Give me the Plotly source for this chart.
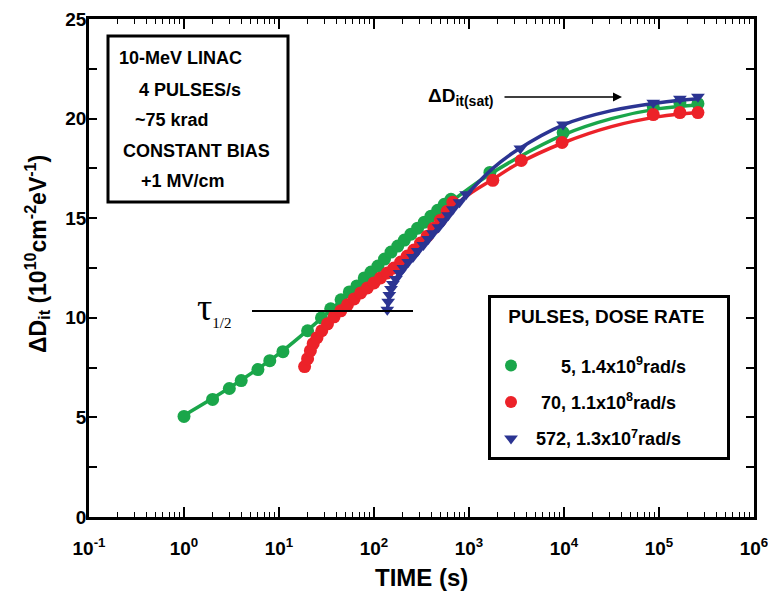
import plotly.graph_objects as go

# 5 pulses, 1.4e9 rad/s
t_5 = [1, 2, 3, 4, 6, 8, 11, 20, 28, 35, 45, 55, 66, 79, 93, 110, 129, 151, 178,
       209, 245, 288, 339, 398, 468, 550, 646, 1660, 9800, 87000, 166000, 257000]
d_5 = [5.05, 5.9, 6.45, 6.85, 7.4, 7.85, 8.3, 9.35, 10.0, 10.45, 10.9, 11.3, 11.6,
       12.0, 12.3, 12.6, 12.95, 13.3, 13.6, 13.9, 14.2, 14.5, 14.8, 15.1, 15.4,
       15.7, 15.95, 17.3, 19.3, 20.6, 20.8, 20.75]

# 70 pulses, 1.1e8 rad/s
t_70 = [18.6, 20, 21.4, 22.9, 25.1, 28.2, 32.4, 38, 44.7, 52.5, 61.7, 72.4, 85.1,
        100, 117, 138, 162, 191, 224, 263, 309, 363, 427, 501, 589, 676, 1780,
        3550, 9550, 87000, 166000, 257000]
d_70 = [7.55, 7.95, 8.35, 8.7, 9.0, 9.35, 9.7, 10.05, 10.35, 10.65, 10.95, 11.25,
        11.5, 11.75, 12.0, 12.25, 12.5, 12.8, 13.1, 13.4, 13.75, 14.1, 14.5, 14.9,
        15.35, 15.8, 16.9, 17.9, 18.8, 20.2, 20.3, 20.3]

# 572 pulses, 1.3e7 rad/s
t_572 = [138, 141, 145, 151, 158, 170, 186, 204, 229, 257, 288, 331, 372, 417,
         479, 537, 603, 676, 794, 933, 3470, 9770, 87000, 166000, 257000]
d_572 = [10.4, 10.8, 11.15, 11.45, 11.7, 11.95, 12.25, 12.5, 12.8, 13.05, 13.35,
         13.65, 13.95, 14.25, 14.55, 14.85, 15.15, 15.45, 15.8, 16.2, 18.5, 19.7,
         20.8, 21.0, 21.1]

# fitted curves (knots)
fit_t_5 = [1, 3.16, 10, 31.6, 100, 316, 1000, 3160, 10000, 31600, 100000, 270000]
fit_d_5 = [5.1, 6.55, 8.2, 10.2, 12.4, 14.6, 16.5, 18.0, 19.2, 20.0, 20.5, 20.7]
fit_t_70 = [18.6, 25.1, 39.8, 63.1, 100, 178, 316, 562, 1000, 1780, 3160, 10000,
            31600, 100000, 257000]
fit_d_70 = [7.55, 9.0, 10.15, 11.0, 11.75, 12.65, 13.8, 15.2, 16.2, 16.95, 17.7,
            18.8, 19.6, 20.1, 20.3]
fit_t_572 = [138, 158, 200, 316, 562, 1000, 1780, 3160, 10000, 31600, 100000, 257000]
fit_d_572 = [10.4, 11.7, 12.45, 13.55, 14.95, 16.3, 17.5, 18.4, 19.7, 20.4, 20.8, 21.0]

x_ticks = [0.1, 1, 10, 100, 1000, 10000, 100000, 1000000]
x_ticktext = ["10<sup>-1</sup>", "10<sup>0</sup>", "10<sup>1</sup>", "10<sup>2</sup>",
              "10<sup>3</sup>", "10<sup>4</sup>", "10<sup>5</sup>", "10<sup>6</sup>"]
x_minor = [m * d for d in [0.1, 1, 10, 100, 1000, 10000, 100000] for m in range(2, 10)]
y_ticks = [0, 5, 10, 15, 20, 25]
y_minor = [2.5, 7.5, 12.5, 17.5, 22.5]

GREEN = "#1aa64a"
RED = "#ec2229"
BLUE = "#2b3492"

NB = "\u00a0"
series = [
    (t_5, d_5, fit_t_5, fit_d_5, GREEN, "circle", 13, NB * 6 + "5, 1.4x10<sup>9</sup>rad/s" + NB * 7),
    (t_70, d_70, fit_t_70, fit_d_70, RED, "circle", 13, NB * 2 + "70, 1.1x10<sup>8</sup>rad/s"),
    (t_572, d_572, fit_t_572, fit_d_572, BLUE, "triangle-down", 12, NB + "572, 1.3x10<sup>7</sup>rad/s"),
]

fig = go.Figure()
for i, (t, d, ft, fd, col, sym, size, name) in enumerate(series):
    fig.add_trace(go.Scatter(x=ft, y=fd, mode="lines", line=dict(color=col, width=3.5, shape="spline"),
                             showlegend=False, hoverinfo="skip"))
    fig.add_trace(go.Scatter(x=t, y=d, mode="markers", name=name, legendgroup=f"g{i}",
                             marker=dict(color=col, symbol=sym, size=size, line=dict(width=0))))

# empty trace so the top/right frame axes get drawn
fig.add_trace(go.Scatter(x=[], y=[], xaxis="x2", yaxis="y2", showlegend=False, hoverinfo="skip"))

# plot area sits at 89..754 x 19..517 in window pixels
PW, PH = 665.0, 498.0
def px(x):
    return (x - 89) / PW
def py(y):
    return (517 - y) / PH

FAM = "Liberation Sans, Arial"
bold = dict(family=FAM, size=18, color="black", weight="bold")

shapes = [
    dict(type="rect", xref="paper", yref="paper", x0=px(108), x1=px(288), y0=py(202), y1=py(36),
         line=dict(color="black", width=3)),
    dict(type="line", xref="paper", yref="paper", x0=px(252), x1=px(413), y0=py(311), y1=py(311),
         line=dict(color="black", width=2)),
]

box_lines = [("10-MeV LINAC", 117, 58), ("4 PULSES/s", 137, 90), ("~75 krad", 133, 120),
             ("CONSTANT BIAS", 121, 151), ("+1 MV/cm", 139, 181)]
annotations = []
for txt, x, y in box_lines:
    annotations.append(dict(text=txt, xref="paper", yref="paper", x=px(x), y=py(y),
                            xanchor="left", yanchor="middle", showarrow=False, font=bold))

annotations += [
    dict(text="τ<sub><span style='font-size:15px'>1/2</span></sub>", xref="paper", yref="paper",
         x=px(195), y=py(308), xanchor="left", yanchor="middle", showarrow=False,
         font=dict(family="Liberation Serif, Times New Roman", size=38, color="black")),
    dict(text="ΔD<sub><span style='font-size:14px'>it(sat)</span></sub>", xref="paper", yref="paper",
         x=px(426), y=py(97), xanchor="left", yanchor="middle", showarrow=False,
         font=dict(family=FAM, size=19, color="black", weight="bold")),
    dict(text="", xref="paper", yref="paper", x=px(622), y=py(97), ax=-119, ay=0,
         showarrow=True, arrowhead=2, arrowsize=1.2, arrowwidth=1.5, arrowcolor="black"),
    dict(text="ΔD<sub>it</sub> (10<sup>10</sup>cm<sup>-2</sup>eV<sup>-1</sup>)", xref="paper", yref="paper",
         x=px(37), y=py(254), textangle=-90, showarrow=False, xanchor="center", yanchor="middle",
         font=dict(family=FAM, size=23, color="black", weight="bold")),
    dict(text="TIME (s)", xref="paper", yref="paper", x=px(421), y=py(577), showarrow=False,
         xanchor="center", yanchor="middle", font=dict(family=FAM, size=24, color="black", weight="bold")),
]

fig.update_layout(
    width=768, height=592,
    margin=dict(l=89, r=14, t=19, b=75, autoexpand=False),
    paper_bgcolor="white", plot_bgcolor="white",
    shapes=shapes, annotations=annotations,
    legend=dict(x=px(488), y=py(295), xanchor="left", yanchor="top",
                bordercolor="black", borderwidth=3, bgcolor="white",
                font=dict(family=FAM, size=18, color="black", weight="bold"),
                title=dict(text="PULSES, DOSE RATE" + NB + "<br>" + NB, side="top center",
                           font=dict(family=FAM, size=19, weight="bold")),
                tracegroupgap=10, itemsizing="constant"),
)

axis_common = dict(showline=True, linecolor="black", linewidth=2.5, mirror=False,
                   showgrid=False, zeroline=False, ticks="inside", tickcolor="black",
                   tickwidth=1.5, automargin=False, ticklabeloverflow="allow",
                   tickfont=dict(family=FAM, size=19, color="black", weight="bold"))

x_minor_style = dict(ticks="inside", ticklen=5, tickmode="array", tickvals=x_minor,
                     tickcolor="black", tickwidth=1.2)
y_minor_style = dict(ticks="inside", ticklen=8, tickmode="array", tickvals=y_minor,
                     tickcolor="black", tickwidth=1.5)

fig.update_layout(
    xaxis=dict(type="log", range=[-1, 6], tickvals=x_ticks, ticktext=x_ticktext, ticklen=10,
               ticklabelstandoff=12, minor=x_minor_style, **axis_common),
    yaxis=dict(range=[0, 25], tickvals=y_ticks, ticklen=8, ticklabelstandoff=-4,
               minor=y_minor_style, **axis_common),
    xaxis2=dict(type="log", range=[-1, 6], overlaying="x", side="top", anchor="y",
                tickvals=x_ticks, ticklen=10, showticklabels=False, minor=x_minor_style,
                **axis_common),
    yaxis2=dict(range=[0, 25], overlaying="y", side="right", anchor="x",
                tickvals=y_ticks, ticklen=8, showticklabels=False, minor=y_minor_style,
                **axis_common),
)

# drop the default page margin so the figure fills the window exactly
fig.write_html("out.html", config={"displayModeBar": False},
               post_script="document.body.style.margin='0';document.body.style.overflow='hidden';")
